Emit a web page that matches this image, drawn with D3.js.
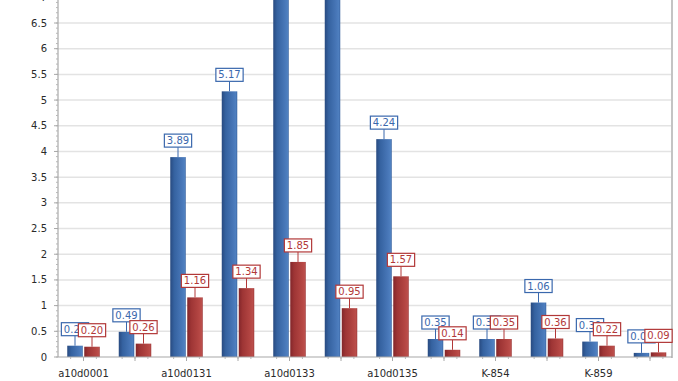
<!DOCTYPE html>
<html>
<head>
<meta charset="utf-8">
<script src="https://cdn.jsdelivr.net/npm/d3@7"></script>
<style>
  html, body { margin: 0; padding: 0; background: #fff; }
  svg { display: block; }
  text { font-family: "DejaVu Sans", Verdana, sans-serif; }
</style>
</head>
<body>
<svg id="chart" width="678" height="381"></svg>
<script>
// ---- data ----
const categories = ["a10d0001", "", "a10d0131", "", "a10d0133", "", "a10d0135", "", "K-854", "", "K-859", ""];
const seriesBlue = [0.22, 0.49, 3.89, 5.17, 7.6, 7.8, 4.24, 0.35, 0.35, 1.06, 0.30, 0.08];
const seriesRed  = [0.20, 0.26, 1.16, 1.34, 1.85, 0.95, 1.57, 0.14, 0.35, 0.36, 0.22, 0.09];
const yTicks = [0, 0.5, 1, 1.5, 2, 2.5, 3, 3.5, 4, 4.5, 5, 5.5, 6, 6.5, 7];

// ---- layout ----
const svg = d3.select("#chart");
const plotLeft = 58, plotRight = 671, plotBottom = 357;
const fs = 10;

const x = d3.scaleBand().domain(d3.range(categories.length)).range([57.75, 675.75]).padding(0);
const y = d3.scaleLinear().domain([0, 6.5]).range([plotBottom, 23]);

const barW = 15.5, gap = 1.5;

// gradients
const defs = svg.append("defs");
function grad(id, stops) {
  const g = defs.append("linearGradient").attr("id", id).attr("x1", "0").attr("x2", "1").attr("y1", "0").attr("y2", "0");
  stops.forEach(s => g.append("stop").attr("offset", s[0]).attr("stop-color", s[1]));
}
grad("gBlue", [["0%", "#284a80"], ["25%", "#3562a0"], ["75%", "#4877b8"], ["92%", "#4f80c0"], ["100%", "#345e9c"]]);
grad("gRed", [["0%", "#82262a"], ["25%", "#9e3535"], ["75%", "#b44643"], ["92%", "#bb4e4b"], ["100%", "#9a3636"]]);

// grid lines
svg.append("g").selectAll("line").data(yTicks.filter(d => d > 0)).join("line")
  .attr("x1", plotLeft).attr("x2", plotRight)
  .attr("y1", d => y(d)).attr("y2", d => y(d))
  .attr("stroke", "#e3e3e3").attr("stroke-width", 1.5);

// right border
svg.append("line").attr("x1", plotRight + 1).attr("x2", plotRight + 1).attr("y1", 0).attr("y2", plotBottom + 1)
  .attr("stroke", "#c4c4c4").attr("stroke-width", 2);

// bars
const gBars = svg.append("g");
gBars.selectAll("rect.b").data(seriesBlue).join("rect").attr("class", "b")
  .attr("x", (d, i) => x(i) + x.bandwidth() / 2 - gap / 2 - barW)
  .attr("width", barW)
  .attr("y", d => y(d)).attr("height", d => y(0) - y(d))
  .attr("fill", "url(#gBlue)");
gBars.selectAll("rect.r").data(seriesRed).join("rect").attr("class", "r")
  .attr("x", (d, i) => x(i) + x.bandwidth() / 2 + gap / 2)
  .attr("width", barW)
  .attr("y", d => y(d)).attr("height", d => y(0) - y(d))
  .attr("fill", "url(#gRed)");

// y axis
const yAxisG = svg.append("g");
yAxisG.append("line").attr("x1", plotLeft).attr("x2", plotLeft).attr("y1", 0).attr("y2", plotBottom)
  .attr("stroke", "#a8a8a8").attr("stroke-width", 1.2);
const minorY = d3.range(0, 7.2, 0.1).map(v => +v.toFixed(1));
yAxisG.selectAll("line.mt").data(minorY).join("line").attr("class", "mt")
  .attr("x1", plotLeft - 2).attr("x2", plotLeft).attr("y1", d => y(d)).attr("y2", d => y(d))
  .attr("stroke", "#b8b8b8").attr("stroke-width", 1);
yAxisG.selectAll("line.Mt").data(yTicks).join("line").attr("class", "Mt")
  .attr("x1", plotLeft - 4).attr("x2", plotLeft).attr("y1", d => y(d)).attr("y2", d => y(d))
  .attr("stroke", "#a8a8a8").attr("stroke-width", 1);
yAxisG.selectAll("text").data(yTicks).join("text")
  .attr("x", 47).attr("y", d => y(d)).attr("dy", "0.35em")
  .attr("text-anchor", "end").attr("font-size", fs).attr("fill", "#2a2a2a")
  .text(d => d3.format("")(d));

// x axis
const xAxisG = svg.append("g");
xAxisG.append("line").attr("x1", plotLeft).attr("x2", plotRight + 1).attr("y1", plotBottom).attr("y2", plotBottom)
  .attr("stroke", "#a8a8a8").attr("stroke-width", 1.2);
const idx = d3.range(categories.length);
const minorX = [];
idx.forEach(i => { [0.25, 0.5, 0.75].forEach(f => minorX.push(x(i) + x.bandwidth() * f)); });
xAxisG.selectAll("line.mt").data(minorX.filter(v => v < plotRight)).join("line").attr("class", "mt")
  .attr("x1", d => d).attr("x2", d => d).attr("y1", plotBottom).attr("y2", plotBottom + 2)
  .attr("stroke", "#b8b8b8");
xAxisG.selectAll("line.Mt").data(idx).join("line").attr("class", "Mt")
  .attr("x1", i => x(i) + x.bandwidth() / 2).attr("x2", i => x(i) + x.bandwidth() / 2)
  .attr("y1", plotBottom).attr("y2", plotBottom + 4)
  .attr("stroke", "#a8a8a8");
xAxisG.selectAll("text").data(idx).join("text")
  .attr("x", i => x(i) + x.bandwidth() / 2).attr("y", 377)
  .attr("text-anchor", "middle").attr("font-size", fs).attr("fill", "#2a2a2a")
  .text(i => categories[i]);

// value labels (only those that fall inside the visible plot area)
function labels(data, color, side) {
  const g = svg.append("g");
  data.forEach((d, i) => {
    const cx = x(i) + x.bandwidth() / 2 + side * (gap / 2 + barW / 2);
    const top = y(d);
    const boxBottom = top - 10;
    const boxH = 13;
    if (boxBottom - boxH < 0) return;
    const t = g.append("text").attr("font-size", fs).attr("fill", color)
      .attr("text-anchor", "middle").attr("x", cx).attr("y", boxBottom - boxH / 2).attr("dy", "0.36em")
      .text(d3.format(".2f")(d));
    const w = t.node().getComputedTextLength() + 5;
    g.insert("line", "text").attr("x1", cx).attr("x2", cx).attr("y1", boxBottom).attr("y2", top)
      .attr("stroke", color).attr("stroke-width", 1);
    g.insert("rect", "text").attr("x", cx - w / 2).attr("y", boxBottom - boxH).attr("width", w).attr("height", boxH)
      .attr("fill", "#fff").attr("stroke", color).attr("stroke-width", 1.2);
  });
}
labels(seriesBlue, "#3a68ad", -1);
labels(seriesRed, "#b23838", 1);
</script>
</body>
</html>
